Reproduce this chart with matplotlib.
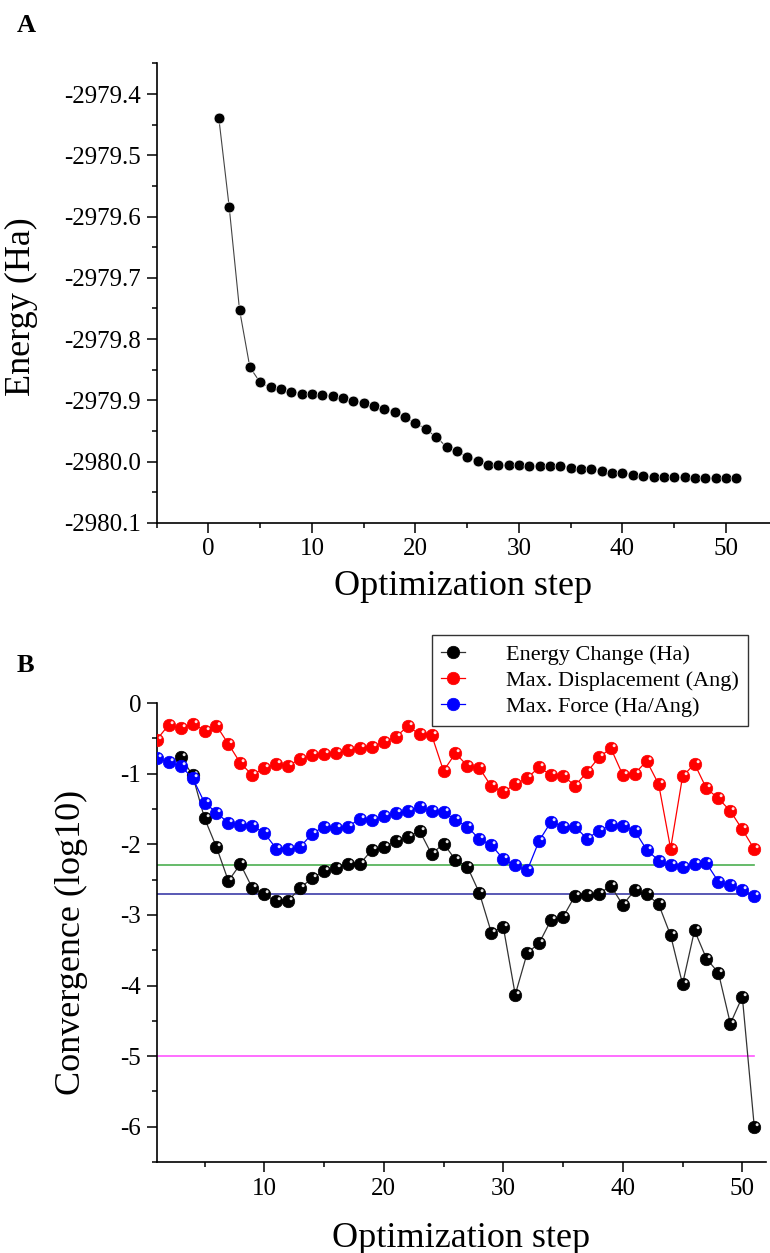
import numpy as np
import matplotlib
matplotlib.use("Agg")
import matplotlib.pyplot as plt
from matplotlib.path import Path
from matplotlib.ticker import MultipleLocator, FormatStrFormatter
from matplotlib.legend_handler import HandlerTuple

plt.rcParams['font.family'] = ['Liberation Serif', 'DejaVu Serif']
plt.rcParams['axes.unicode_minus'] = False

# panel A: total energy per optimization step
steps = list(range(1, 52))
energy = [-2979.439, -2979.584, -2979.752, -2979.846, -2979.871, -2979.879,
          -2979.882, -2979.887, -2979.889, -2979.890, -2979.892, -2979.893,
          -2979.897, -2979.901, -2979.905, -2979.909, -2979.915, -2979.919,
          -2979.928, -2979.937, -2979.947, -2979.960, -2979.976, -2979.983,
          -2979.993, -2979.999, -2980.005, -2980.006, -2980.006, -2980.006,
          -2980.007, -2980.007, -2980.007, -2980.008, -2980.010, -2980.012,
          -2980.013, -2980.015, -2980.018, -2980.019, -2980.022, -2980.024,
          -2980.025, -2980.026, -2980.026, -2980.026, -2980.027, -2980.027,
          -2980.027, -2980.027, -2980.027]

# panel B: convergence criteria (log10)
steps_dE = list(range(3, 52))
energy_change = [-0.76, -1.02, -1.63, -2.04, -2.52, -2.28, -2.62, -2.71, -2.81,
                 -2.80, -2.62, -2.48, -2.38, -2.33, -2.28, -2.28, -2.08, -2.04,
                 -1.96, -1.90, -1.81, -2.14, -1.99, -2.22, -2.32, -2.69, -3.25,
                 -3.17, -4.13, -3.54, -3.40, -3.07, -3.03, -2.73, -2.72, -2.70,
                 -2.59, -2.86, -2.65, -2.71, -2.85, -3.29, -3.98, -3.22, -3.62,
                 -3.82, -4.54, -4.16, -6.00]
max_disp = [-0.52, -0.31, -0.36, -0.29, -0.39, -0.32, -0.58, -0.85, -1.02, -0.92,
            -0.86, -0.89, -0.79, -0.74, -0.72, -0.71, -0.67, -0.63, -0.62, -0.55,
            -0.48, -0.33, -0.44, -0.45, -0.96, -0.71, -0.89, -0.92, -1.18, -1.26,
            -1.15, -1.06, -0.91, -1.02, -1.03, -1.17, -0.98, -0.77, -0.64, -1.02,
            -1.00, -0.82, -1.15, -2.06, -1.04, -0.86, -1.21, -1.35, -1.53, -1.79,
            -2.07]
max_force = [-0.78, -0.84, -0.89, -1.06, -1.41, -1.55, -1.70, -1.72, -1.74, -1.84,
             -2.06, -2.07, -2.04, -1.85, -1.75, -1.77, -1.75, -1.64, -1.66, -1.60,
             -1.55, -1.53, -1.47, -1.53, -1.54, -1.66, -1.75, -1.93, -2.01, -2.21,
             -2.30, -2.37, -1.95, -1.68, -1.75, -1.75, -1.92, -1.81, -1.73, -1.74,
             -1.81, -2.08, -2.23, -2.30, -2.32, -2.28, -2.27, -2.53, -2.58, -2.65,
             -2.73]
thresholds = [-2.30, -2.70, -5.00]
threshold_colors = ['#4caf50', '#3c3ca8', '#ff55ff']

labels = ['Energy Change (Ha)', 'Max. Displacement (Ang)', 'Max. Force (Ha/Ang)']
colors = ['black', 'red', 'blue']
line_colors = ['#333333', 'red', 'blue']

# small white highlight so the markers look like shaded balls
shine = Path.make_compound_path(
    Path([(-1, -1), (1, 1)], [Path.MOVETO, Path.MOVETO]),
    Path.circle((0.42, 0.45), 0.24))

fig = plt.figure(figsize=(7.7, 12.53), dpi=100)
axA = fig.add_axes([0.2035, 0.5828, 0.7965, 0.3666])
axB = fig.add_axes([0.2035, 0.0726, 0.7916, 0.3663])


def style_axis(ax):
    for side in ['top', 'right']:
        ax.spines[side].set_visible(False)
    for side in ['left', 'bottom']:
        ax.spines[side].set_linewidth(1.2)
    ax.tick_params(which='major', direction='out', length=7.2, width=1.1,
                   labelsize=18, pad=4)
    ax.tick_params(which='minor', direction='out', length=3.8, width=1.1)


# ---- panel A
axA.plot(steps, energy, color='#444444', lw=0.8, marker='o', ms=7.8,
         mfc='black', mec='white', mew=0.5)
axA.set_xlim(-5, 54.25)
axA.set_ylim(-2980.1, -2979.35)
axA.xaxis.set_major_locator(MultipleLocator(10))
axA.xaxis.set_minor_locator(MultipleLocator(5))
axA.yaxis.set_major_locator(MultipleLocator(0.1))
axA.yaxis.set_minor_locator(MultipleLocator(0.05))
axA.yaxis.set_major_formatter(FormatStrFormatter('%.1f'))
style_axis(axA)
axA.set_xlabel('Optimization step', fontsize=26)
axA.set_ylabel('Energy (Ha)', fontsize=26)
axA.xaxis.set_label_coords(0.5, -0.103)
axA.yaxis.set_label_coords(-0.1935, 0.47)

# ---- panel B
for y, c in zip(thresholds, threshold_colors):
    axB.plot([1, 51], [y, y], color=c, lw=1.2, zorder=1)

handles = []
series = [(steps_dE, energy_change), (steps, max_disp), (steps, max_force)]
for (xs, ys), c, lc in zip(series, colors, line_colors):
    ln, = axB.plot(xs, ys, color=lc, lw=0.9, marker='o', ms=9,
                   mfc=c, mec=c, mew=0.5, zorder=3)
    hl, = axB.plot(xs, ys, ls='none', marker=shine, ms=9,
                   mfc='white', mec='none', alpha=0.9, zorder=3)
    handles.append((ln, hl))

axB.set_xlim(1, 52)
axB.set_ylim(-6.5, 0)
axB.xaxis.set_major_locator(MultipleLocator(10))
axB.xaxis.set_minor_locator(MultipleLocator(5))
axB.yaxis.set_major_locator(MultipleLocator(1))
axB.yaxis.set_minor_locator(MultipleLocator(0.5))
style_axis(axB)
axB.set_xlabel('Optimization step', fontsize=26)
axB.set_ylabel('Convergence (log10)', fontsize=26)
axB.xaxis.set_label_coords(0.5, -0.13)
axB.yaxis.set_label_coords(-0.112, 0.479)

leg = axB.legend(handles, labels, handler_map={tuple: HandlerTuple(ndivide=None)},
                 loc='upper right', bbox_to_anchor=(0.970, 1.148), borderaxespad=0,
                 fontsize=16, numpoints=1, handlelength=2.6, handletextpad=0.35,
                 labelspacing=0.26, borderpad=0.4, fancybox=False, framealpha=1)
leg.get_frame().set_edgecolor('#333333')
leg.get_frame().set_linewidth(1.0)
leg.set_zorder(5)

fig.text(17 / 770, 1 - 32 / 1253, 'A', fontsize=19, fontweight='bold',
         ha='left', va='baseline')
fig.text(17 / 770, 1 - 672 / 1253, 'B', fontsize=19, fontweight='bold',
         ha='left', va='baseline')

fig.savefig('out.png', dpi=100)
